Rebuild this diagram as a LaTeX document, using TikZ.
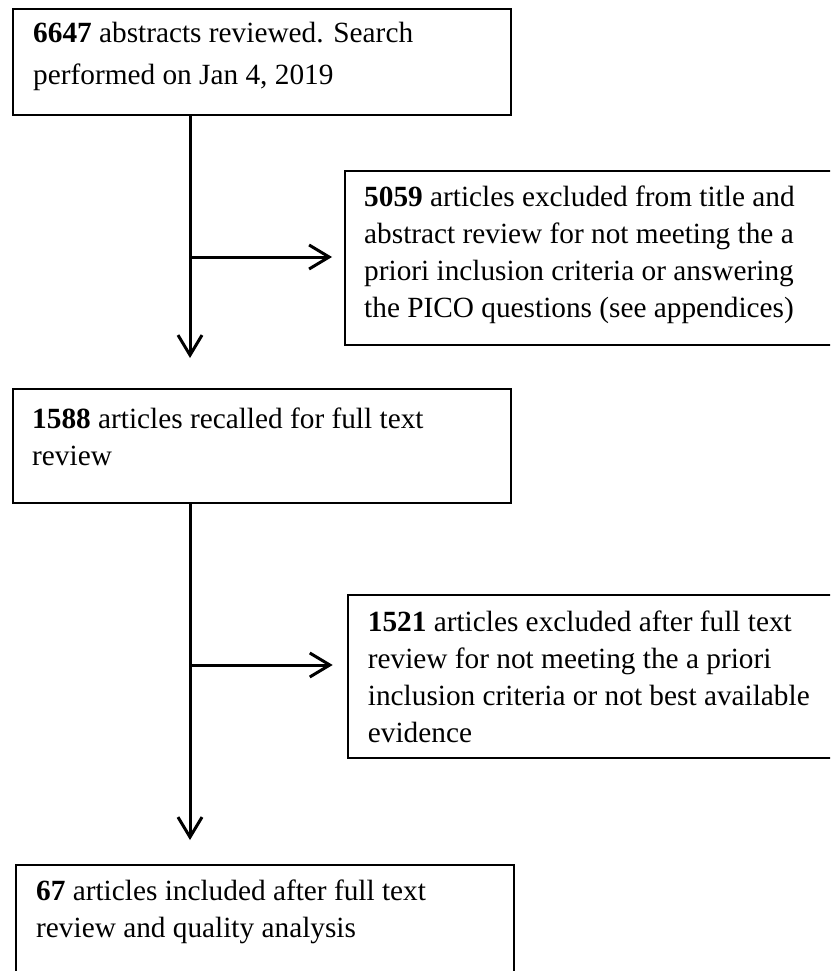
\documentclass[tikz,border=0pt]{standalone}
\usepackage{fontspec}
\setmainfont{Liberation Serif}
\usetikzlibrary{arrows.meta,calc}
\begin{document}
\begin{tikzpicture}[x=1pt,y=-1pt,
  box/.style={draw, line width=2pt, inner sep=0pt, anchor=north west},
  txt/.style={anchor=north west, inner sep=0pt, align=left, font=\fontsize{29.3}{37}\selectfont},
  flow/.style={line width=3pt},
  arr/.style={flow, -{Straight Barb[length=20pt,width=24pt,line width=3pt]}}]
\useasboundingbox (0,0) rectangle (830,971);
\fill[white] (0,0) rectangle (830,971);
\begin{scope}
\clip (0,0) rectangle (830,971);
\node[box, minimum width=498pt, minimum height=105.7pt] (b1) at (12,8) {};
\node[box, minimum width=506pt, minimum height=174pt] (b2) at (344,170) {};
\node[box, minimum width=498pt, minimum height=114pt] (b3) at (12,388) {};
\node[box, minimum width=504pt, minimum height=163pt] (b4) at (346.7,594) {};
\node[box, minimum width=498pt, minimum height=140pt] (b5) at (15,864) {};

\node[txt, font=\fontsize{29.3}{42}\selectfont] (t1) at ($(b1.north west)+(21,5)$) {\strut\textbf{6647} abstracts reviewed. Search\\performed on Jan 4, 2019};
\node[txt] (t2) at ($(b2.north west)+(20,10)$) {\strut\textbf{5059} articles excluded from title and\\abstract review for not meeting the a\\priori inclusion criteria or answering\\the PICO questions (see appendices)};
\node[txt] (t3) at ($(b3.north west)+(20,14)$) {\strut\textbf{1588} articles recalled for full text\\review};
\node[txt] (t4) at ($(b4.north west)+(21,11)$) {\strut\textbf{1521} articles excluded after full text\\review for not meeting the a priori\\inclusion criteria or not best available\\evidence};
\node[txt] (t5) at ($(b5.north west)+(21,10)$) {\strut\textbf{67} articles included after full text\\review and quality analysis};

\coordinate (j1) at (190,257);
\coordinate (j2) at (190,665);
\draw[arr, shorten >=30pt] (b1.south -| j1) -- (b3.north -| j1);
\draw[arr, shorten >=12pt] (j1) -- (b2.west |- j1);
\draw[arr, shorten >=24pt] (b3.south -| j2) -- (b5.north -| j2);
\draw[arr, shorten >=14pt] (j2) -- (b4.west |- j2);
\end{scope}
\end{tikzpicture}
\end{document}
